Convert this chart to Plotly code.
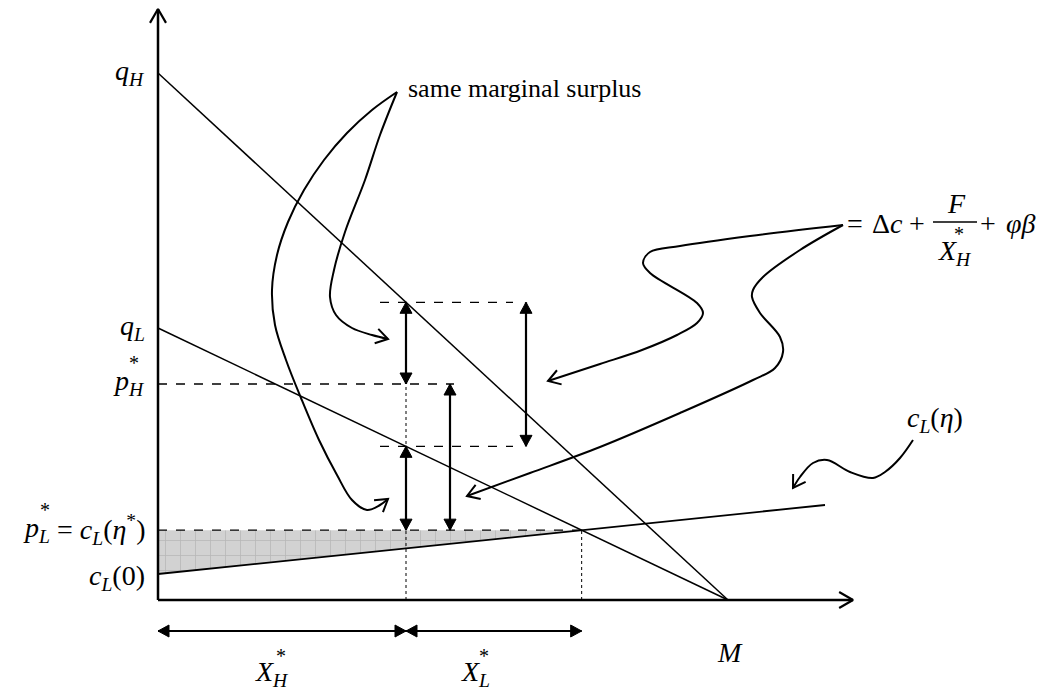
"""Two-quality pricing diagram: q_H, q_L demand lines and the c_L(eta) cost line."""

import numpy as np
import plotly.graph_objects as go

# Diagram values (units: origin at the corner of the axes)
Q_H = 527          # intercept of the high-quality line
Q_L = 272          # intercept of the low-quality line
M = 570            # both lines reach zero at M
C_L0 = 26          # c_L(0)
C_L_END = [667, 95]  # right end of the c_L(eta) line
X_H = 248          # X_H*
P_H = 216          # p_H*
X_AXIS_END = 695
Y_AXIS_END = 591
ARROW_X_PH = 292   # double arrow between p_L* and p_H*
ARROW_X_GAP = 368  # double arrow for the q_H - q_L gap
DASH_FROM = 222
DASH_TO = 355
BOTTOM_Y = -31     # height of the X_H*, X_L* arrows

# Hand-drawn pointer curves
surplus_a_x = [239, 214, 189, 166, 146, 130, 119, 114, 117, 128, 143, 161, 179, 194, 209, 222, 230]
surplus_a_y = [508, 490, 467, 440, 410, 378, 345, 310, 275, 240, 202, 160, 125, 100, 90, 95, 101]
surplus_b_x = [239, 222, 207, 187, 176, 172, 178, 194, 214, 230]
surplus_b_y = [508, 465, 420, 368, 330, 303, 285, 272, 265, 261]
formula_a_x = [685, 592, 522, 492, 485, 492, 539, 545, 539, 519, 484, 442, 390]
formula_a_y = [375, 364, 354, 348, 337, 327, 297, 287, 277, 265, 250, 236, 219]
formula_b_x = [685, 642, 605, 595, 594, 602, 622, 625, 617, 595, 522, 442, 372, 309]
formula_b_y = [375, 350, 323, 310, 303, 287, 263, 248, 232, 220, 187, 153, 127, 104]
cost_x = [755, 742, 727, 715, 692, 669, 655, 642, 635]
cost_y = [160, 142, 128, 122, 128, 140, 137, 123, 112]

FONT = "Liberation Serif"
SIZE = 28


def q_high(x):
    return Q_H * (1 - x / M)


def q_low(x):
    return Q_L * (1 - x / M)


slope_cl = (C_L_END[1] - C_L0) / C_L_END[0]
X_END = (Q_L - C_L0) / (slope_cl + Q_L / M)
P_L = C_L0 + slope_cl * X_END

fig = go.Figure()


def line(xs, ys, width=1.5, dash=None):
    fig.add_trace(go.Scatter(
        x=xs, y=ys, mode="lines", hoverinfo="skip", showlegend=False,
        line={"color": "black", "width": width, "dash": dash},
    ))


def unit(d):
    d = np.asarray(d, float)
    return d / np.linalg.norm(d)


def solid_head(tip, d, length=11, half=6):
    d = unit(d)
    n = np.array([-d[1], d[0]])
    tip = np.asarray(tip, float)
    base = tip - d * length
    pts = [tip, base + n * half, base - n * half, tip]
    fig.add_trace(go.Scatter(
        x=[p[0] for p in pts], y=[p[1] for p in pts], mode="lines",
        fill="toself", fillcolor="black", hoverinfo="skip", showlegend=False,
        line={"color": "black", "width": 1},
    ))


def double_arrow(p0, p1, width=2.2):
    line([p0[0], p1[0]], [p0[1], p1[1]], width=width)
    d = np.subtract(p1, p0)
    solid_head(p1, d)
    solid_head(p0, -d)


def chevron(tip, d, length=14, angle=32, width=2.0):
    d = unit(d)
    a = np.radians(angle)
    xs, ys = [], []
    for s in (1, -1):
        r = np.array([d[0] * np.cos(s * a) - d[1] * np.sin(s * a),
                      d[0] * np.sin(s * a) + d[1] * np.cos(s * a)])
        w = np.asarray(tip) - r * length
        xs += [w[0], tip[0]]
        ys += [w[1], tip[1]]
    line([xs[0], xs[1], xs[2]], [ys[0], ys[1], ys[2]], width=width)


def curve(xs, ys, width=2.0):
    fig.add_trace(go.Scatter(
        x=xs, y=ys, mode="lines", hoverinfo="skip", showlegend=False,
        line={"color": "black", "width": width, "shape": "spline", "smoothing": 1.0},
    ))
    chevron((xs[-1], ys[-1]), (xs[-1] - xs[-2], ys[-1] - ys[-2]))


# shaded area between p_L* and the c_L line
fig.add_trace(go.Scatter(
    x=[0, X_END, 0, 0], y=[P_L, P_L, C_L0, P_L], mode="lines", fill="toself",
    fillcolor="#d2d2d2", hoverinfo="skip", showlegend=False, line={"width": 0},
    fillpattern={"shape": "+", "size": 15, "fgcolor": "#9c9c9c",
                 "bgcolor": "#d2d2d2", "solidity": 0.1},
))

# demand lines and cost line
line([0, M], [Q_H, 0], width=1.5)
line([0, M], [Q_L, 0], width=1.5)
line([0, C_L_END[0]], [C_L0, C_L_END[1]], width=1.8)

# dashed price levels
line([0, ARROW_X_PH + 4], [P_H, P_H], width=1.3, dash="dash")
line([0, X_END], [P_L, P_L], width=1.3, dash="dash")
line([DASH_FROM, DASH_TO], [q_high(X_H)] * 2, width=1.3, dash="dash")
line([DASH_FROM, DASH_TO], [q_low(X_H)] * 2, width=1.3, dash="dash")

# dotted verticals
line([X_H, X_H], [0, P_H], width=1, dash="dot")
line([X_END, X_END], [0, P_L], width=1, dash="dot")

# axes
line([0, 0], [0, Y_AXIS_END], width=2.5)
line([0, X_AXIS_END], [0, 0], width=2.5)
chevron((0, Y_AXIS_END), (0, 1), length=16, angle=30, width=2.2)
chevron((X_AXIS_END, 0), (1, 0), length=16, angle=30, width=2.2)

# double arrows
double_arrow((X_H, q_high(X_H)), (X_H, P_H))
double_arrow((X_H, q_low(X_H)), (X_H, P_L))
double_arrow((ARROW_X_PH, P_H), (ARROW_X_PH, P_L))
double_arrow((ARROW_X_GAP, q_high(X_H)), (ARROW_X_GAP, q_low(X_H)))
double_arrow((0, BOTTOM_Y), (X_H, BOTTOM_Y))
double_arrow((X_H, BOTTOM_Y), (X_END, BOTTOM_Y))

# pointer curves
curve(surplus_a_x, surplus_a_y)
curve(surplus_b_x, surplus_b_y)
curve(formula_a_x, formula_a_y)
curve(formula_b_x, formula_b_y)
curve(cost_x, cost_y)


def label(x, y, text, size=SIZE, xanchor="center", yanchor="middle"):
    fig.add_annotation(
        x=x, y=y, xref="x", yref="y", text=text, showarrow=False,
        xanchor=xanchor, yanchor=yanchor, borderpad=0,
        font={"family": FONT, "size": size, "color": "black"},
    )


# axis labels
label(-12, Q_H + 1, "<i>q<sub>H</sub></i>", xanchor="right")
label(-12, Q_L + 1, "<i>q<sub>L</sub></i>", xanchor="right")
label(-12, P_H + 2, "<i>p<sub>H</sub></i>", xanchor="right")
label(-24, P_H + 21, "*", size=20)
label(-12, P_L + 1, "= <i>c<sub>L</sub></i>(<i>η</i><sup>*</sup>)", xanchor="right")
label(-107, P_L + 1, "<i>p<sub>L</sub></i>", xanchor="right")
label(-113, P_L + 20, "*", size=20)
label(-12, C_L0 - 3, "<i>c<sub>L</sub></i>(0)", xanchor="right")
label(M + 2, -52, "<i>M</i>")
label(114, -73, "<i>X<sub>H</sub></i>")
label(123, -56, "*", size=20)
label(317, -73, "<i>X<sub>L</sub></i>")
label(326, -56, "*", size=20)

# annotations
label(surplus_a_x[0] + 10, surplus_a_y[0] + 4, "same marginal surplus",
      size=26, xanchor="left")
label(cost_x[0] + 22, 181, "<i>c<sub>L</sub></i>(<i>η</i>)")
fx, fy = formula_a_x[0], formula_a_y[0]
label(fx + 12, fy + 2, "=")
label(fx + 44, fy + 2, "Δ<i>c</i>")
label(fx + 74, fy + 2, "+")
label(fx + 113, fy + 22, "<i>F</i>")
line([fx + 90, fx + 134], [fy + 3, fy + 3], width=1.3)
label(fx + 112, fy - 27, "<i>X<sub>H</sub></i>")
label(fx + 116, fy - 9, "*", size=20)
label(fx + 145, fy + 2, "+")
label(fx + 177, fy + 2, "<i>φβ</i>")

fig.update_layout(
    width=1036, height=686,
    margin={"l": 0, "r": 0, "t": 0, "b": 0},
    paper_bgcolor="white", plot_bgcolor="white",
    xaxis={"range": [-150, 886], "visible": False, "fixedrange": True},
    yaxis={"range": [-94, 592], "visible": False, "fixedrange": True},
)

fig.write_html("out.html")
